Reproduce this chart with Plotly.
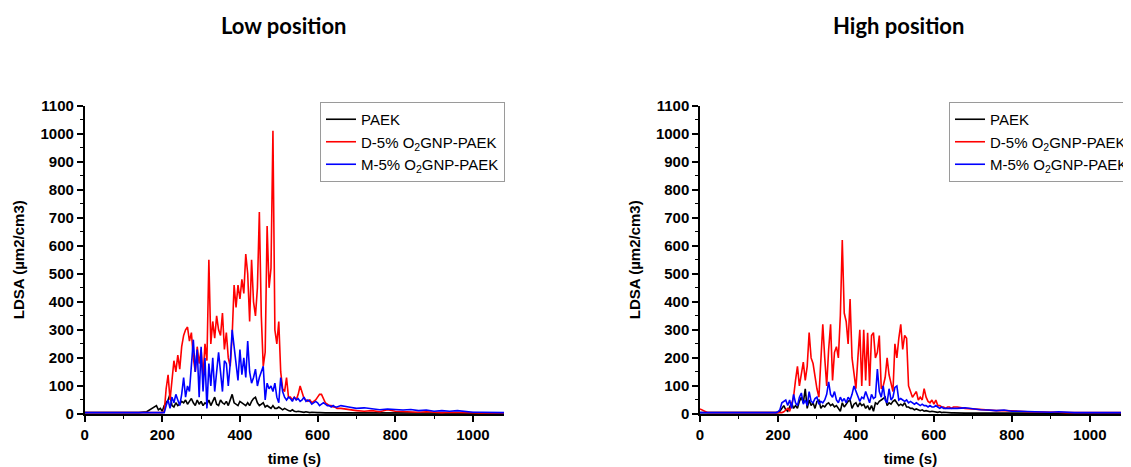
import plotly.graph_objects as go

# ---------------- data ----------------
# sampling grid (s): sparse before/after the event, 5 s inside it
time_head = list(range(0, 181, 20))        # 0..180
time_core = list(range(185, 651, 5))       # 185..650
time_tail = list(range(660, 1081, 20))     # 660..1080
time_s = time_head + time_core + time_tail

series_names = ["PAEK", "D-5% O<sub>2</sub>GNP-PAEK", "M-5% O<sub>2</sub>GNP-PAEK"]
series_colors = ["#000000", "#FF0000", "#0000FF"]

# ---- Low position ----
low_paek = (
    [5, 5, 5, 5, 5, 5, 5, 5, 8, 25]
    + [30, 15, 20, 10, 30, 40, 50, 70, 30, 25,
       40, 30, 35, 45, 40, 50, 35, 45, 55, 40,
       30, 50, 35, 45, 30, 40, 35, 50, 30, 45,
       60, 35, 30, 50, 40, 35, 45, 30, 55, 70,
       40, 35, 30, 45, 40, 35, 30, 40, 30, 45,
       55, 60, 40, 30, 35, 40, 25, 30, 25, 20,
       30, 20, 20, 25, 20, 15, 20, 15, 12, 10,
       15, 10, 8, 10, 8, 8, 6, 8, 6, 5,
       6, 5, 5, 5, 5, 4, 5, 4, 4, 4,
       4, 3, 4, 3]
    + [3, 3, 3, 3, 3, 3, 3, 3, 3, 3, 3, 3, 3, 3, 3, 3, 3, 3, 3, 3, 3, 3]
)
low_d5 = (
    [5, 5, 5, 5, 5, 5, 5, 5, 5, 5]
    + [5, 5, 5, 5, 8, 90, 140, 50, 120, 190,
       150, 210, 160, 240, 280, 300, 310, 260, 290, 200,
       150, 240, 180, 230, 130, 250, 190, 550, 250, 330,
       270, 350, 300, 280, 360, 230, 290, 200, 170, 280,
       460, 380, 460, 410, 480, 430, 570, 500, 330, 550,
       400, 350, 450, 720, 350, 170, 220, 670, 450, 520,
       1010, 300, 250, 330, 150, 90, 80, 130, 60, 60,
       50, 60, 50, 70, 100, 80, 55, 50, 45, 50,
       40, 45, 50, 60, 70, 70, 55, 40, 35, 30,
       30, 25, 25, 20]
    + [20, 15, 12, 10, 12, 8, 15, 10, 8, 8, 6, 8, 6, 5, 6, 5, 5, 5, 4, 4, 4, 4]
)
low_m5 = (
    [5, 5, 5, 5, 5, 5, 5, 5, 5, 5]
    + [5, 5, 5, 5, 5, 30, 50, 20, 60, 40,
       70, 50, 30, 70, 130, 60, 100, 80, 180, 265,
       150, 230, 60, 240, 80, 200, 20, 180, 100, 200,
       80, 160, 220, 150, 80, 190, 180, 100, 180, 300,
       240, 200, 120, 230, 140, 200, 130, 260, 150, 110,
       130, 160, 100, 130, 150, 170, 50, 110, 90, 100,
       80, 110, 60, 40, 130, 80, 60, 50, 60, 55,
       45, 60, 50, 55, 45, 50, 60, 45, 50, 45,
       35, 40, 45, 40, 30, 35, 40, 35, 30, 30,
       25, 30, 25, 25]
    + [30, 25, 20, 22, 18, 15, 18, 15, 14, 16, 12, 14, 10, 12, 10, 12, 8, 6, 6, 6, 5, 5]
)

# ---- High position ----
high_paek = (
    [5, 5, 5, 5, 5, 5, 5, 5, 5, 5]
    + [5, 5, 5, 5, 10, 20, 30, 15, 10, 25,
       40, 20, 30, 20, 45, 60, 40, 90, 20, 50,
       30, 40, 20, 45, 50, 20, 30, 25, 35, 40,
       30, 35, 25, 30, 20, 10, 40, 25, 35, 45,
       50, 20, 35, 40, 25, 40, 30, 35, 20, 30,
       15, 30, 10, 40, 35, 45, 50, 55, 60, 30,
       40, 35, 45, 50, 40, 30, 35, 30, 40, 25,
       25, 20, 20, 15, 18, 15, 12, 15, 10, 12,
       10, 8, 10, 8, 8, 6, 8, 5, 6, 5,
       5, 5, 4, 4]
    + [3, 3, 3, 3, 3, 3, 3, 3, 3, 3, 3, 3, 3, 3, 3, 3, 3, 3, 3, 3, 3, 3]
)
high_d5 = (
    [18, 5, 5, 5, 5, 5, 5, 5, 5, 5]
    + [5, 5, 5, 5, 5, 5, 8, 15, 20, 10,
       40, 60, 120, 170, 100, 140, 185, 120, 170, 290,
       200, 180, 130, 90, 60, 200, 320, 200, 100, 230,
       320, 120, 220, 240, 200, 350, 620, 360, 330, 250,
       410, 200, 150, 90, 200, 300, 100, 300, 120, 290,
       100, 280, 290, 200, 220, 280, 90, 100, 130, 200,
       140, 110, 80, 250, 200, 270, 320, 230, 280, 270,
       100, 80, 60, 70, 80, 50, 60, 50, 90, 60,
       45, 40, 50, 35, 50, 30, 30, 25, 25, 20,
       25, 25, 20, 25]
    + [25, 20, 18, 15, 15, 12, 12, 12, 10, 8, 8, 6, 6, 6, 5, 6, 5, 5, 5, 5, 5, 5]
)
high_m5 = (
    [5, 5, 5, 5, 5, 5, 5, 5, 5, 5]
    + [5, 5, 5, 8, 15, 40, 45, 50, 30, 50,
       20, 70, 40, 30, 60, 75, 35, 50, 30, 80,
       45, 40, 55, 60, 35, 45, 40, 50, 70, 115,
       70, 60, 80, 50, 40, 60, 45, 55, 40, 60,
       50, 70, 100, 80, 60, 45, 60, 55, 80, 60,
       40, 70, 55, 60, 160, 80, 60, 100, 50, 40,
       90, 50, 60, 95, 100, 50, 55, 50, 45, 50,
       40, 45, 40, 35, 40, 35, 30, 35, 30, 30,
       25, 30, 25, 25, 30, 25, 20, 25, 20, 20,
       20, 18, 20, 18]
    + [20, 22, 18, 15, 14, 12, 14, 10, 10, 8, 8, 7, 6, 8, 6, 5, 5, 5, 5, 5, 5, 5]
)

for s in (low_paek, low_d5, low_m5, high_paek, high_d5, high_m5):
    assert len(s) == len(time_s), len(s)

panel_titles = ["Low position", "High position"]
x_title = "time (s)"
y_title = "LDSA (µm2/cm3)"

# ---------------- figure ----------------
# the page body has an 8 px margin, so the figure starts at (8, 8)
OFF = 8
W, H = 1131 - OFF, 467 - OFF
fig = go.Figure()

panels = [
    ("x", "y", "legend", [low_paek, low_d5, low_m5]),
    ("x2", "y2", "legend2", [high_paek, high_d5, high_m5]),
]
for xa, ya, lg, data in panels:
    for name, color, vals in zip(series_names, series_colors, data):
        fig.add_trace(go.Scatter(
            x=time_s, y=vals, mode="lines", name=name,
            line=dict(color=color, width=1.6),
            xaxis=xa, yaxis=ya, legend=lg,
        ))

def px_x(p):
    return (p - OFF) / W

def px_y(p):
    return (H - (p - OFF)) / H

ydom = [px_y(414), px_y(105.5)]
tickfont = dict(family="Arial, Liberation Sans", size=15, color="black", weight="bold")
titlefont = dict(family="Arial, Liberation Sans", size=15, color="black", weight="bold")

common_x = dict(
    range=[0, 1080], dtick=200, tick0=0, ticks="outside", ticklen=6, tickwidth=1.5,
    tickcolor="black", showline=True, linecolor="black", linewidth=1.5,
    showgrid=False, zeroline=False, tickfont=tickfont,
    minor=dict(dtick=100, ticks="outside", ticklen=3, tickwidth=1.2, tickcolor="black", showgrid=False),
    title=dict(text=x_title, font=titlefont, standoff=12),
)
common_y = dict(
    range=[0, 1100], dtick=100, tick0=0, ticks="outside", ticklen=6, tickwidth=1.5,
    tickcolor="black", showline=True, linecolor="black", linewidth=1.5,
    showgrid=False, zeroline=False, tickfont=tickfont, domain=ydom,
    minor=dict(dtick=50, ticks="outside", ticklen=3, tickwidth=1.2, tickcolor="black", showgrid=False),
    title=dict(text=y_title, font=titlefont, standoff=12),
)

legend_common = dict(
    y=px_y(102), xanchor="left", yanchor="top",
    bordercolor="#9a9a9a", borderwidth=1, bgcolor="white",
    font=dict(family="Arial, Liberation Sans", size=15, color="black"),
    tracegroupgap=0, itemwidth=30,
)

fig.update_layout(
    width=W, height=H,
    margin=dict(l=0, r=0, t=0, b=0, autoexpand=False),
    paper_bgcolor="white", plot_bgcolor="white",
    xaxis=dict(common_x, domain=[px_x(84.6), px_x(504)], anchor="y"),
    yaxis=dict(common_y, anchor="x"),
    xaxis2=dict(common_x, domain=[px_x(700), px_x(1121)], anchor="y2"),
    yaxis2=dict(common_y, anchor="x2"),
    legend=dict(legend_common, x=px_x(320)),
    legend2=dict(legend_common, x=px_x(949)),
    showlegend=True,
)

for title, cx in zip(panel_titles, [283, 898]):
    fig.add_annotation(
        text=title, x=px_x(cx), y=px_y(25), xref="paper", yref="paper",
        xanchor="center", yanchor="middle", showarrow=False,
        font=dict(family="Lato", size=22, color="black", weight="bold"),
    )

fig.write_html("out.html")
